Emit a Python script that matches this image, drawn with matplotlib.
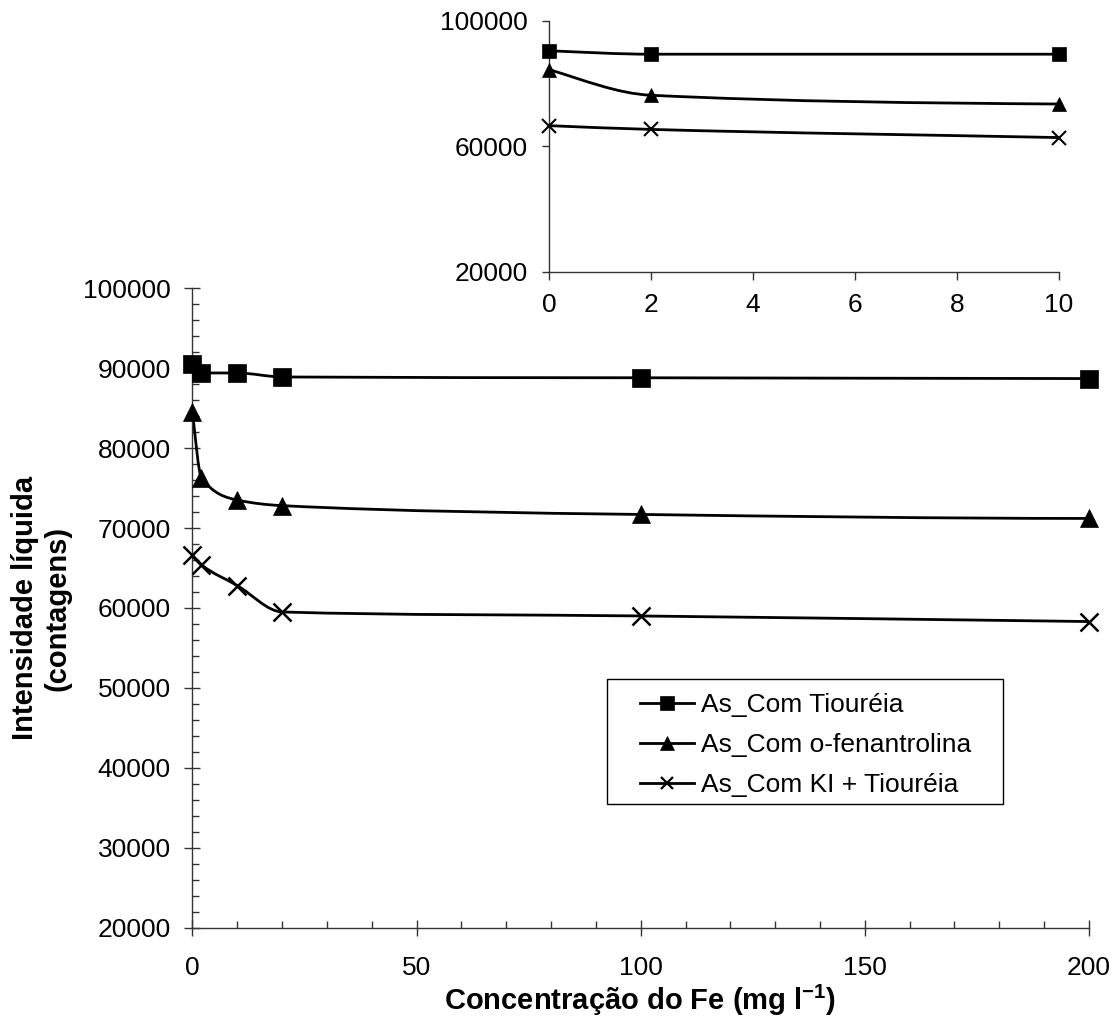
import matplotlib
matplotlib.use("Agg")
import matplotlib.pyplot as plt
import numpy as np
from matplotlib.path import Path
from matplotlib.patches import PathPatch, Rectangle
from matplotlib.lines import Line2D
from matplotlib.ticker import MultipleLocator

# Data
conc_fe = [0, 2, 10, 20, 100, 200]
tioureia = [90500, 89400, 89400, 88900, 88800, 88700]
fenantrolina = [84500, 76300, 73500, 72800, 71700, 71200]
ki_tioureia = [66600, 65400, 62800, 59500, 59000, 58300]

series_labels = ["As_Com Tiouréia", "As_Com o-fenantrolina", "As_Com KI + Tiouréia"]
series_markers = ["s", "^", "x"]

inset_xmax = 10
inset_yticks = [20000, 60000, 100000]

plt.rcParams["font.family"] = ["Liberation Sans", "DejaVu Sans"]
plt.rcParams["mathtext.fontset"] = "custom"
plt.rcParams["mathtext.rm"] = "Liberation Sans:bold"
plt.rcParams["mathtext.bf"] = "Liberation Sans:bold"
plt.rcParams["mathtext.default"] = "rm"


def pchip_slopes(x, y):
    # shape-preserving slopes (Fritsch-Carlson), only used to shape the smoothed line
    h = np.diff(x)
    d = np.diff(y) / h
    m = np.zeros_like(y)
    for i in range(1, len(x) - 1):
        if d[i - 1] * d[i] <= 0:
            m[i] = 0.0
        else:
            w1 = 2 * h[i] + h[i - 1]
            w2 = h[i] + 2 * h[i - 1]
            m[i] = (w1 + w2) / (w1 / d[i - 1] + w2 / d[i])
    m[0] = ((2 * h[0] + h[1]) * d[0] - h[0] * d[1]) / (h[0] + h[1])
    if np.sign(m[0]) != np.sign(d[0]):
        m[0] = 0.0
    m[-1] = ((2 * h[-1] + h[-2]) * d[-1] - h[-1] * d[-2]) / (h[-1] + h[-2])
    if np.sign(m[-1]) != np.sign(d[-1]):
        m[-1] = 0.0
    return m


def smooth_path(x, y):
    # cubic Bezier path through the data points (like Excel's smoothed line)
    x = np.asarray(x, float)
    y = np.asarray(y, float)
    m = pchip_slopes(x, y)
    verts = [(x[0], y[0])]
    codes = [Path.MOVETO]
    for i in range(len(x) - 1):
        h = x[i + 1] - x[i]
        verts += [(x[i] + h / 3, y[i] + m[i] * h / 3),
                  (x[i + 1] - h / 3, y[i + 1] - m[i + 1] * h / 3),
                  (x[i + 1], y[i + 1])]
        codes += [Path.CURVE4] * 3
    return Path(verts, codes)


def draw_series(ax, xmax, msize, mew):
    x = np.asarray(conc_fe)
    keep = x <= xmax
    for values, marker in zip([tioureia, fenantrolina, ki_tioureia], series_markers):
        ax.add_patch(PathPatch(smooth_path(conc_fe, values), facecolor="none",
                               edgecolor="black", linewidth=2.0, zorder=2))
        ax.plot(x[keep], np.asarray(values)[keep], linestyle="none", marker=marker,
                color="black", markersize=msize if marker != "^" else msize * 0.95,
                markeredgewidth=mew if marker == "x" else 0.5,
                clip_on=False, zorder=3)


def style_spines(ax):
    for side in ["top", "right"]:
        ax.spines[side].set_visible(False)
    for side in ["left", "bottom"]:
        ax.spines[side].set_linewidth(1.0)
        ax.spines[side].set_color("#333333")


fig = plt.figure(figsize=(11.14, 10.28), dpi=100)

# main axes
ax = fig.add_axes([0.1728, 0.0976, 0.8047, 0.6220])
draw_series(ax, conc_fe[-1], 13, 1.8)
ax.set_xlim(0, 200)
ax.set_ylim(20000, 100000)
ax.xaxis.set_major_locator(MultipleLocator(50))
ax.xaxis.set_minor_locator(MultipleLocator(10))
ax.yaxis.set_major_locator(MultipleLocator(10000))
ax.yaxis.set_minor_locator(MultipleLocator(2000))
ax.tick_params(which="major", direction="inout", length=11.5, width=1.0,
               labelsize=19, color="#333333")
ax.tick_params(which="minor", direction="in", length=5, width=1.0, color="#333333")
ax.tick_params(axis="y", which="major", pad=10)
ax.tick_params(axis="x", which="major", pad=15)
style_spines(ax)

fig.text(0.037, 0.4086, "Intensidade líquida\n(contagens)", rotation=90,
         ha="center", va="center", fontsize=21, fontweight="bold",
         multialignment="center")
fig.text(0.5745, 0.0175, "Concentração do Fe (mg l$^{-1}$)", ha="center",
         va="baseline", fontsize=21, fontweight="bold")

# legend with a separate box, like the Excel legend frame
handles = [Line2D([], [], color="black", linewidth=2.0, marker=mk,
                  markersize=9.5 if mk != "x" else 9,
                  markeredgewidth=1.6 if mk == "x" else 0.5)
           for mk in series_markers]
fig.add_artist(Rectangle((606.7 / 1114, 1 - 804 / 1028), (1003 - 606.7) / 1114,
                         (804 - 679) / 1028, transform=fig.transFigure,
                         facecolor="white", edgecolor="black", linewidth=1.0, zorder=4))
leg = fig.legend(handles, series_labels, loc="upper left",
                 bbox_to_anchor=(627 / 1114, 1 - 680 / 1028), frameon=False,
                 fontsize=19, handlelength=2.05, handletextpad=0.27,
                 labelspacing=0.6, borderpad=0.0)
leg.set_zorder(5)

# inset axes (zoom on 0-10 mg/l)
axins = fig.add_axes([0.4928, 0.7357, 0.4578, 0.2439])
draw_series(axins, inset_xmax, 10, 1.5)
axins.set_xlim(0, inset_xmax)
axins.set_ylim(20000, 100000)
axins.xaxis.set_major_locator(MultipleLocator(2))
axins.set_yticks(inset_yticks)
axins.tick_params(which="major", direction="out", width=1.0, labelsize=19,
                  color="#333333")
axins.tick_params(axis="y", length=5, pad=10)
axins.tick_params(axis="x", length=6, pad=9)
style_spines(axins)

fig.savefig("out.png", dpi=100, facecolor="white")
